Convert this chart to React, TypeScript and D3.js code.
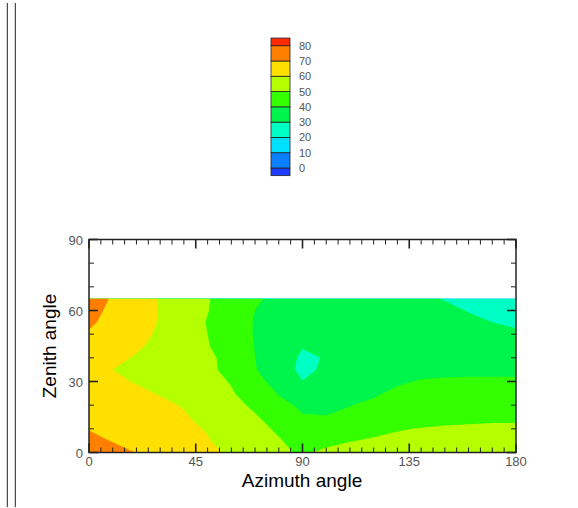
import React from "react";
import * as d3 from "d3";

// Grid axes of the sampled field (degrees)
const azimuth = [0, 10, 20, 30, 40, 50, 60, 70, 80, 90, 100, 110, 120, 130, 140, 150, 160, 170, 180];
const zenith = [0, 5, 10, 15, 20, 25, 30, 35, 40, 45, 50, 55, 60, 65];

// Field values, one row per zenith angle, one column per azimuth
const zen00 = [76, 73, 69.8, 67, 64.5, 61.5, 59, 54.5, 51.5, 49, 51.5, 53, 54, 54.5, 55, 55.5, 55.5, 56, 56];
const zen05 = [73, 69.5, 67, 64.5, 62.5, 60.5, 57, 53, 50.5, 47.5, 48, 49.7, 50.8, 51.8, 52.5, 53, 53.5, 54, 54];
const zen10 = [69.5, 67, 65, 63.5, 61.5, 59.5, 55.5, 52, 49, 45.5, 45, 46.5, 48, 49.5, 50.3, 51, 51.3, 51.5, 51.5];
const zen15 = [67.5, 65.5, 64, 62.5, 60.8, 57.5, 54.5, 50.8, 46, 40.5, 40.2, 41.5, 44, 46, 47, 47.5, 48, 48.5, 48.5];
const zen20 = [66, 64.5, 63, 61.5, 59.5, 55.5, 52.5, 48.5, 42, 38.8, 38.5, 39.8, 41.5, 43.5, 44.5, 45.5, 46, 46.5, 46.5];
const zen25 = [65, 63.5, 61.5, 59.5, 57, 54, 50.8, 45.5, 39.5, 36, 35.5, 37, 39, 41.5, 43, 44, 44.5, 45, 45];
const zen30 = [64, 61.5, 59.5, 57.5, 55.5, 52.5, 49.5, 43, 36.5, 30.2, 33, 35, 37, 39, 40.5, 40.8, 41, 41, 41];
const zen35 = [62, 60, 58, 56, 54, 51.5, 48, 40.5, 34.5, 28, 31.5, 34, 36, 37.5, 38, 38.5, 38.5, 38.5, 38.5];
const zen40 = [63, 61.5, 59.5, 57.5, 55, 51.8, 47, 40, 35, 28.5, 30.5, 34, 36, 37, 37.5, 37.5, 37, 36.5, 36];
const zen45 = [64, 62.5, 60.8, 58.5, 55.5, 50.5, 45, 39.8, 35, 30.5, 32, 34, 35.5, 36, 36, 35.5, 34.5, 33.5, 32.5];
const zen50 = [69, 65.5, 62, 59, 55.5, 50, 44.5, 39.5, 36, 33.5, 33.5, 34.5, 35, 35, 34.5, 34, 33, 32, 31];
const zen55 = [71.5, 67, 63, 59.5, 55, 49.5, 44.5, 39.5, 36.5, 35, 34.5, 34.5, 34.5, 34, 33, 32, 31, 30, 29];
const zen60 = [73, 68, 63.5, 59.5, 55, 50.3, 45, 40, 37, 35.5, 35, 34.5, 34, 33, 32, 31, 29.8, 28.5, 27.5];
const zen65 = [75, 69, 64, 59.5, 55.5, 50.5, 46, 41, 38, 36, 35, 34, 33, 32, 31, 29.8, 28.5, 27.5, 26.5];

const fieldRows = [zen00, zen05, zen10, zen15, zen20, zen25, zen30, zen35, zen40, zen45, zen50, zen55, zen60, zen65];

// Contour levels and flood colours (band below 0 first, band above 80 last)
const levels = [0, 10, 20, 30, 40, 50, 60, 70, 80];
const bandColors = [
  "#1f3dff", "#0a80ff", "#00e0ff", "#00ffc4", "#00f54c",
  "#33ff00", "#b4ff00", "#ffe000", "#ff8000", "#ff2a00",
];

const xTicksMajor = [0, 45, 90, 135, 180];
const yTicksMajor = [0, 30, 60, 90];

const W = 578;
const H = 508;

export default function App() {
  const x = d3.scaleLinear().domain([0, 180]).range([89, 516]);
  const y = d3.scaleLinear().domain([0, 90]).range([452.5, 239.5]);

  const nx = azimuth.length;
  const ny = zenith.length;
  const flat: number[] = [];
  fieldRows.forEach((row) => row.forEach((v) => flat.push(v)));

  const azStep = azimuth[1] - azimuth[0];
  const zenStep = zenith[1] - zenith[0];
  const contours = d3.contours().size([nx, ny]).thresholds(levels)(flat);
  const proj = d3.geoTransform({
    point(gx: number, gy: number) {
      (this as any).stream.point(
        x(azimuth[0] + (gx - 0.5) * azStep),
        y(zenith[0] + (gy - 0.5) * zenStep)
      );
    },
  });
  const path = d3.geoPath(proj);

  const x0 = x(0), x1 = x(180);
  const yb = y(0), yt = y(90);
  const yData = y(zenith[zenith.length - 1]);

  const xMinor = d3.range(0, 181, 5);
  const yMinor = d3.range(0, 91, 10);

  // colour legend
  const ly = d3.scaleLinear().domain([0, 80]).range([168, 45.7]);
  const legendBands = bandColors.map((c, i) => {
    const lo = i === 0 ? -5 : levels[i - 1];
    const hi = i === bandColors.length - 1 ? 85 : levels[i];
    return { c, lo, hi };
  });

  const font = "'Liberation Sans', Arial, Helvetica, sans-serif";

  return (
    <svg
      width={W}
      height={H}
      style={{ position: "absolute", left: 0, top: 0, background: "#fff" }}
      fontFamily={font}
    >
      <defs>
        <clipPath id="dataClip">
          <rect x={x0} y={yData} width={x1 - x0} height={yb - yData} />
        </clipPath>
      </defs>

      {/* frame lines at the left */}
      <line x1={7.3} x2={7.3} y1={3} y2={507} stroke="#222" strokeWidth={1} />
      <line x1={15.3} x2={15.3} y1={3} y2={507} stroke="#222" strokeWidth={1} />

      {/* flooded contours */}
      <g clipPath="url(#dataClip)">
        {contours.map((c, i) => (
          <path key={i} d={path(c as any) || ""} fill={bandColors[i + 1]} stroke="none" />
        ))}
      </g>

      {/* ticks */}
      <g stroke="#222">
        {xMinor.map((v) => {
          const major = v % 45 === 0;
          const len = major ? 9 : 5;
          const sw = major ? 1.6 : 1;
          return (
            <g key={"xt" + v}>
              <line x1={x(v)} x2={x(v)} y1={yb} y2={yb - len} strokeWidth={sw} />
              <line x1={x(v)} x2={x(v)} y1={yt} y2={yt + len} strokeWidth={sw} />
            </g>
          );
        })}
        {yMinor.map((v) => {
          const major = v % 30 === 0;
          const len = major ? 9 : 5;
          const sw = major ? 1.6 : 1;
          return (
            <g key={"yt" + v}>
              <line x1={x0} x2={x0 + len} y1={y(v)} y2={y(v)} strokeWidth={sw} />
              <line x1={x1} x2={x1 - len} y1={y(v)} y2={y(v)} strokeWidth={sw} />
            </g>
          );
        })}
      </g>

      {/* plot frame */}
      <rect x={x0} y={yt} width={x1 - x0} height={yb - yt} fill="none" stroke="#222" strokeWidth={1.5} />

      {/* tick labels */}
      <g fill="#555" fontSize={13}>
        {xTicksMajor.map((v) => (
          <text key={"xl" + v} x={x(v)} y={466} textAnchor="middle">
            {v}
          </text>
        ))}
        {yTicksMajor.map((v) => (
          <text key={"yl" + v} x={83} y={y(v) + 5} textAnchor="end">
            {v}
          </text>
        ))}
      </g>

      {/* axis titles */}
      <text x={302} y={486.5} textAnchor="middle" fontSize={19} fill="#000">
        Azimuth angle
      </text>
      <text
        transform={`translate(56,346) rotate(-90)`}
        textAnchor="middle"
        fontSize={19}
        fill="#000"
      >
        Zenith angle
      </text>

      {/* legend */}
      <g>
        {legendBands.map((b, i) => (
          <rect
            key={"lb" + i}
            x={271}
            y={ly(b.hi)}
            width={19}
            height={ly(b.lo) - ly(b.hi)}
            fill={b.c}
            stroke="#222"
            strokeWidth={0.8}
          />
        ))}
        {levels.map((v) => (
          <text key={"ll" + v} x={299} y={ly(v) + 4} fontSize={11} fill="#555">
            {v}
          </text>
        ))}
      </g>
    </svg>
  );
}
